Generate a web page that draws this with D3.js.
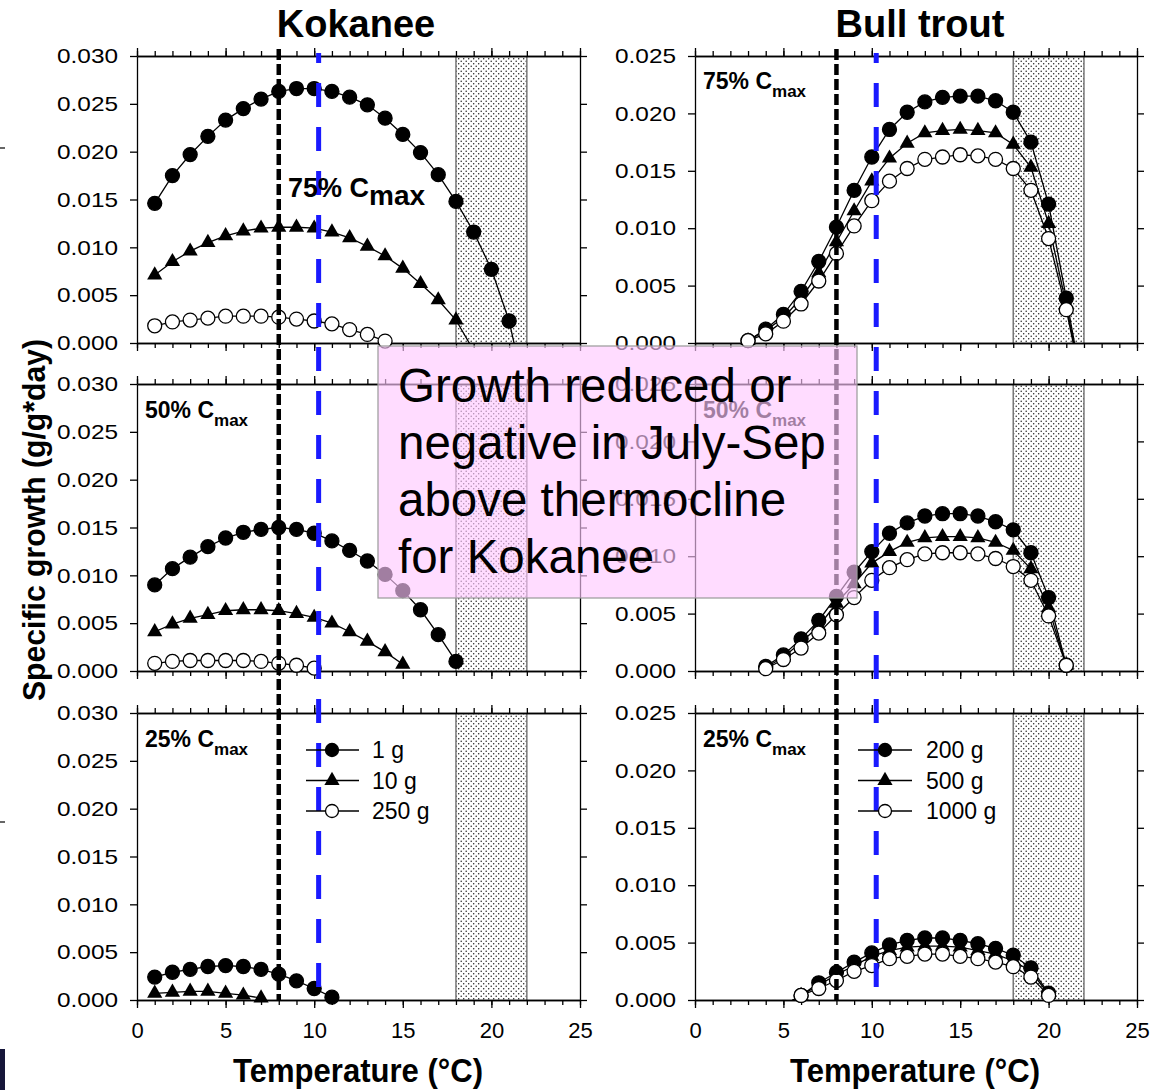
<!DOCTYPE html>
<html>
<head>
<meta charset="utf-8">
<script src="https://cdn.jsdelivr.net/npm/d3@7"></script>
<style>
body { margin: 0; background: #fff; }
svg { display: block; font-family: "Liberation Sans", Arial, sans-serif; }
</style>
</head>
<body>
<svg id="chart" width="1155" height="1090"></svg>
<script>
// temperatures (deg C) for each group of series
const kokTemps = [1, 2, 3, 4, 5, 6, 7, 8, 9, 10, 11, 12, 13, 14, 15, 16, 17, 18, 19, 20, 21, 22];
const bull75Temps = [3, 4, 5, 6, 7, 8, 9, 10, 11, 12, 13, 14, 15, 16, 17, 18, 19, 20, 21, 22];
const bull50Temps = [4, 5, 6, 7, 8, 9, 10, 11, 12, 13, 14, 15, 16, 17, 18, 19, 20, 21];
const bull25Temps = [5, 6, 7, 8, 9, 10, 11, 12, 13, 14, 15, 16, 17, 18, 19, 20];

// Kokanee, specific growth (g/g*day)
const kok75_1g = [0.0146, 0.0175, 0.0197, 0.0216, 0.0233, 0.0245, 0.0255, 0.0263, 0.0266, 0.0266, 0.0263, 0.0257, 0.0249, 0.0235, 0.0218, 0.0199, 0.0176, 0.0148, 0.0116, 0.0077, 0.0023, -0.0060];
const kok75_10g = [0.0071, 0.0085, 0.0096, 0.0105, 0.0112, 0.0117, 0.0120, 0.0121, 0.0121, 0.0120, 0.0116, 0.0110, 0.0101, 0.0091, 0.0078, 0.0062, 0.0045, 0.0024, -0.0008];
const kok75_250g = [0.0018, 0.0022, 0.0024, 0.0026, 0.0028, 0.0028, 0.0028, 0.0027, 0.0025, 0.0023, 0.0020, 0.0014, 0.0009, 0.0002];
const kok50_1g = [0.0090, 0.0107, 0.0119, 0.0130, 0.0139, 0.0145, 0.0148, 0.0150, 0.0148, 0.0144, 0.0136, 0.0126, 0.0115, 0.0101, 0.0084, 0.0064, 0.0038, 0.0010];
const kok50_10g = [0.0041, 0.0049, 0.0055, 0.0059, 0.0063, 0.0064, 0.0064, 0.0063, 0.0060, 0.0056, 0.0050, 0.0041, 0.0031, 0.0020, 0.0007];
const kok50_250g = [0.0008, 0.0010, 0.0011, 0.0011, 0.0011, 0.0011, 0.0010, 0.0008, 0.0006, 0.0003];
const kok25_1g = [0.0024, 0.0029, 0.0032, 0.0035, 0.0036, 0.0035, 0.0032, 0.0027, 0.0020, 0.0012, 0.0003];
const kok25_10g = [0.0007, 0.0008, 0.0009, 0.0009, 0.0007, 0.0005, 0.0002];
const kok25_250g = [];

// Bull trout, specific growth (g/g*day)
const bull75_200g = [0.0002, 0.0012, 0.0025, 0.0045, 0.0071, 0.0101, 0.0133, 0.0162, 0.0186, 0.0201, 0.0210, 0.0214, 0.0215, 0.0215, 0.0211, 0.0201, 0.0175, 0.0121, 0.0039, -0.0045];
const bull75_500g = [0.0002, 0.0011, 0.0022, 0.0039, 0.0061, 0.0088, 0.0115, 0.0141, 0.0161, 0.0174, 0.0183, 0.0185, 0.0186, 0.0185, 0.0183, 0.0173, 0.0153, 0.0104, 0.0033, -0.0045];
const bull75_1000g = [0.0002, 0.0008, 0.0019, 0.0034, 0.0054, 0.0078, 0.0102, 0.0124, 0.0141, 0.0152, 0.0160, 0.0162, 0.0164, 0.0163, 0.0160, 0.0152, 0.0133, 0.0091, 0.0029, -0.0045];
const bull50_200g = [0.0004, 0.0014, 0.0028, 0.0044, 0.0065, 0.0086, 0.0104, 0.0120, 0.0129, 0.0135, 0.0137, 0.0137, 0.0135, 0.0130, 0.0123, 0.0103, 0.0064, 0.0005];
const bull50_500g = [0.0003, 0.0012, 0.0025, 0.0039, 0.0059, 0.0076, 0.0094, 0.0104, 0.0112, 0.0116, 0.0117, 0.0117, 0.0116, 0.0112, 0.0105, 0.0089, 0.0055, 0.0005];
const bull50_1000g = [0.0002, 0.0010, 0.0020, 0.0033, 0.0049, 0.0064, 0.0079, 0.0090, 0.0097, 0.0102, 0.0103, 0.0103, 0.0102, 0.0098, 0.0091, 0.0079, 0.0048, 0.0005];
const bull25_200g = [-0.0005, 0.0004, 0.0015, 0.0024, 0.0033, 0.0041, 0.0048, 0.0052, 0.0054, 0.0054, 0.0052, 0.0049, 0.0045, 0.0039, 0.0028, 0.0006];
const bull25_500g = [-0.0005, 0.0004, 0.0013, 0.0022, 0.0030, 0.0038, 0.0043, 0.0046, 0.0047, 0.0047, 0.0046, 0.0043, 0.0040, 0.0034, 0.0025, 0.0005];
const bull25_1000g = [-0.0005, 0.0004, 0.0010, 0.0017, 0.0025, 0.0030, 0.0036, 0.0038, 0.0040, 0.0040, 0.0038, 0.0036, 0.0033, 0.0029, 0.0020, 0.0004];

const species = ["Kokanee", "Bull trout"];
const kokLegend = ["1 g", "10 g", "250 g"];
const bullLegend = ["200 g", "500 g", "1000 g"];
const rationLabels = ["75%", "50%", "25%"];
const yMaxes = [0.030, 0.025];
const yTicksKok = [0, 0.005, 0.010, 0.015, 0.020, 0.025, 0.030];
const yTicksBull = [0, 0.005, 0.010, 0.015, 0.020, 0.025];
const xMajor = [0, 5, 10, 15, 20, 25];
const xMinor = d3.range(0, 26);
const shadeRange = [18, 22];
const thermoBlack = 8, thermoBlue = 10.25;
const noteLines = ["Growth reduced or", "negative in July-Sep", "above thermocline", "for Kokanee"];

// layout
const colLeft = [137, 695], colRight = [580, 1137];
const rowTop = [56, 384, 713], rowBottom = [343, 671, 1000];

const panels = [
  { col: 0, row: 0, temps: kokTemps, series: [kok75_1g, kok75_10g, kok75_250g] },
  { col: 0, row: 1, temps: kokTemps, series: [kok50_1g, kok50_10g, kok50_250g] },
  { col: 0, row: 2, temps: kokTemps, series: [kok25_1g, kok25_10g, kok25_250g] },
  { col: 1, row: 0, temps: bull75Temps, series: [bull75_200g, bull75_500g, bull75_1000g] },
  { col: 1, row: 1, temps: bull50Temps, series: [bull50_200g, bull50_500g, bull50_1000g] },
  { col: 1, row: 2, temps: bull25Temps, series: [bull25_200g, bull25_500g, bull25_1000g] }
];

const svg = d3.select("#chart");
const defs = svg.append("defs");
const pat = defs.append("pattern").attr("id", "dots").attr("patternUnits", "userSpaceOnUse")
  .attr("width", 5).attr("height", 5);
pat.append("rect").attr("width", 5).attr("height", 5).attr("fill", "#fff");
pat.append("circle").attr("cx", 1.2).attr("cy", 1.2).attr("r", 0.75).attr("fill", "#222");
pat.append("circle").attr("cx", 3.7).attr("cy", 3.7).attr("r", 0.75).attr("fill", "#222");

const triangle = d3.symbol().type(d3.symbolTriangle).size(100);

function drawMarker(sel, kind, cx, cy, r) {
  if (kind === 1) {
    sel.append("path").attr("d", triangle).attr("transform", `translate(${cx},${cy})`)
      .attr("fill", "#000");
  } else {
    sel.append("circle").attr("cx", cx).attr("cy", cy).attr("r", r)
      .attr("fill", kind === 0 ? "#000" : "#fff").attr("stroke", "#000").attr("stroke-width", 1.3);
  }
}

const xScales = [];
panels.forEach((p, i) => {
  const x = d3.scaleLinear().domain([0, 25]).range([colLeft[p.col], colRight[p.col]]);
  const yMax = yMaxes[p.col];
  const y = d3.scaleLinear().domain([0, yMax]).range([rowBottom[p.row], rowTop[p.row]]);
  xScales[p.col] = x;
  const g = svg.append("g");

  // shaded temperature band
  g.append("rect")
    .attr("x", x(shadeRange[0])).attr("y", y(yMax))
    .attr("width", x(shadeRange[1]) - x(shadeRange[0]))
    .attr("height", y(0) - y(yMax))
    .attr("fill", "url(#dots)");
  shadeRange.forEach(t => {
    g.append("line").attr("x1", x(t)).attr("x2", x(t)).attr("y1", y(yMax)).attr("y2", y(0))
      .attr("stroke", "#777").attr("stroke-width", 1.5);
  });

  // axes
  const yTicks = p.col === 0 ? yTicksKok : yTicksBull;
  const yl = g.append("g").attr("transform", `translate(${x(0)},0)`)
    .call(d3.axisLeft(y).tickValues(yTicks).tickSize(7).tickSizeOuter(0).tickPadding(12)
      .tickFormat(d3.format(".3f")));
  yl.selectAll("text").attr("font-size", 21).attr("fill", "#000")
    .attr("textLength", 61).attr("lengthAdjust", "spacingAndGlyphs");
  g.append("g").attr("transform", `translate(${x(25)},0)`)
    .call(d3.axisRight(y).tickValues(yTicks).tickSize(7).tickSizeOuter(0).tickFormat(""));

  const xb = g.append("g").attr("transform", `translate(0,${y(0)})`)
    .call(d3.axisBottom(x).tickValues(xMajor).tickSize(8).tickSizeOuter(0).tickPadding(14)
      .tickFormat(p.row === 2 ? d3.format("d") : ""));
  xb.selectAll("text").attr("font-size", 22).attr("fill", "#000");
  g.append("g").attr("transform", `translate(0,${y(0)})`)
    .call(d3.axisBottom(x).tickValues(xMinor).tickSize(5).tickSizeOuter(0).tickFormat(""));
  g.append("g").attr("transform", `translate(0,${y(yMax)})`)
    .call(d3.axisTop(x).tickValues(xMajor).tickSize(8).tickSizeOuter(0).tickFormat(""));
  g.append("g").attr("transform", `translate(0,${y(yMax)})`)
    .call(d3.axisTop(x).tickValues(xMinor).tickSize(5).tickSizeOuter(0).tickFormat(""));
  g.selectAll(".domain, .tick line").attr("stroke", "#000").attr("stroke-width", 1.3);

  // clip for lines
  defs.append("clipPath").attr("id", "clip" + i).append("rect")
    .attr("x", x(0)).attr("y", y(yMax)).attr("width", x(25) - x(0)).attr("height", y(0) - y(yMax));

  const line = d3.line().x((d, j) => x(p.temps[j])).y(d => y(d));
  p.series.forEach((vals, k) => {
    if (!vals.length) return;
    g.append("path").datum(vals).attr("d", line).attr("fill", "none")
      .attr("stroke", "#000").attr("stroke-width", 1.3).attr("clip-path", `url(#clip${i})`);
  });
  p.series.forEach((vals, k) => {
    vals.forEach((v, j) => {
      if (v < 0) return;
      drawMarker(g, k, x(p.temps[j]), y(v), 7);
    });
  });
});

// thermocline / reference temperature lines through each column
[0, 1].forEach(c => {
  const x = xScales[c];
  svg.append("line").attr("x1", x(thermoBlack)).attr("x2", x(thermoBlack))
    .attr("y1", 49).attr("y2", 1000)
    .attr("stroke", "#000").attr("stroke-width", 4.5).attr("stroke-dasharray", "11,4");
  svg.append("line").attr("x1", x(thermoBlue)).attr("x2", x(thermoBlue))
    .attr("y1", 53).attr("y2", 1000)
    .attr("stroke", "#1a1aff").attr("stroke-width", 5)
    .attr("stroke-dasharray", "24,20").attr("stroke-dashoffset", 14);
});

// legends in the bottom panels
[[kokLegend, 306, 359, 332, 372], [bullLegend, 858, 912, 885, 926]].forEach(([labels, x1, x2, xm, xt]) => {
  labels.forEach((lab, k) => {
    const yy = 750 + k * 30.5;
    svg.append("line").attr("x1", x1).attr("x2", x2).attr("y1", yy).attr("y2", yy)
      .attr("stroke", "#000").attr("stroke-width", 1.3);
    drawMarker(svg, k, xm, yy, 6.5);
    svg.append("text").attr("x", xt).attr("y", yy + 8).attr("font-size", 23).text(lab);
  });
});

// ration labels
function cmaxLabel(xPos, yPos, pct, big) {
  const t = svg.append("text").attr("x", xPos).attr("y", yPos).attr("font-weight", "bold")
    .attr("font-size", big ? 27 : 23);
  t.append("tspan").text(pct + " C");
  t.append("tspan").attr("dy", 8).attr("font-size", big ? 28 : 17).text("max");
}
cmaxLabel(288, 197, rationLabels[0], true);
cmaxLabel(145, 418, rationLabels[1], false);
cmaxLabel(145, 747, rationLabels[2], false);
cmaxLabel(703, 89, rationLabels[0], false);
cmaxLabel(703, 418, rationLabels[1], false);
cmaxLabel(703, 747, rationLabels[2], false);

// titles
[356, 920].forEach((cx, c) => {
  svg.append("text").attr("x", cx).attr("y", 37).attr("text-anchor", "middle")
    .attr("font-weight", "bold").attr("font-size", 38).text(species[c]);
  svg.append("text").attr("x", [358, 915][c]).attr("y", 1082).attr("text-anchor", "middle")
    .attr("font-weight", "bold").attr("font-size", 34)
    .attr("textLength", 250).attr("lengthAdjust", "spacingAndGlyphs")
    .text("Temperature (°C)");
});
svg.append("text").attr("transform", "translate(45,520) rotate(-90)").attr("text-anchor", "middle")
  .attr("font-weight", "bold").attr("font-size", 31)
  .attr("textLength", 362).attr("lengthAdjust", "spacingAndGlyphs")
  .text("Specific growth (g/g*day)");

// slide artefacts on the left edge
svg.append("rect").attr("x", 0).attr("y", 1049).attr("width", 5).attr("height", 41).attr("fill", "#16163a");
[148, 822].forEach(yy => svg.append("line").attr("x1", 0).attr("x2", 5).attr("y1", yy).attr("y2", yy)
  .attr("stroke", "#333").attr("stroke-width", 1.5));

// annotation box
svg.append("rect").attr("x", 378).attr("y", 346).attr("width", 479).attr("height", 252)
  .attr("fill", "rgb(255,200,255)").attr("fill-opacity", 0.63)
  .attr("stroke", "#999").attr("stroke-width", 1.2);
noteLines.forEach((s, k) => {
  svg.append("text").attr("x", 398).attr("y", 402 + k * 57).attr("font-size", 47.5).text(s);
});
</script>
</body>
</html>
